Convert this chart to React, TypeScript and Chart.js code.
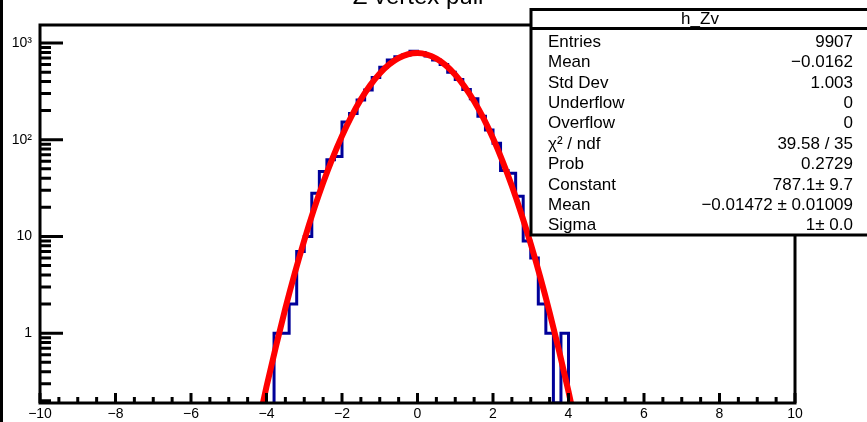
import React, { useEffect, useRef } from 'react';
import { Chart, registerables } from 'chart.js';

Chart.register(...registerables);

// ---- data ----
const binEdges = [
  -3.8, -3.6, -3.4, -3.2, -3.0, -2.8, -2.6, -2.4, -2.2, -2.0,
  -1.8, -1.6, -1.4, -1.2, -1.0, -0.8, -0.6, -0.4, -0.2, 0.0,
  0.2, 0.4, 0.6, 0.8, 1.0, 1.2, 1.4, 1.6, 1.8, 2.0,
  2.2, 2.4, 2.6, 2.8, 3.0, 3.2, 3.4, 3.6, 3.8, 4.0,
];
const binCounts = [
  1, 1, 2, 7, 10, 28, 47, 62, 67, 153,
  187, 258, 327, 440, 560, 667, 721, 751, 820,
  800, 735, 667, 600, 500, 420, 330, 265, 175, 126,
  92, 48, 45, 26, 9, 6, 2, 1, 0, 1,
];
const fitX = [
  -4.25, -4.0, -3.75, -3.5, -3.25, -3.0, -2.75, -2.5, -2.25, -2.0,
  -1.75, -1.5, -1.25, -1.0, -0.75, -0.5, -0.25, 0.0, 0.25, 0.5,
  0.75, 1.0, 1.25, 1.5, 1.75, 2.0, 2.25, 2.5, 2.75, 3.0,
  3.25, 3.5, 3.75, 4.0, 4.25,
];
const fitY = [
  0.1, 0.28, 0.73, 1.81, 4.19, 9.14, 18.7, 35.9, 64.7, 109.6,
  174.7, 261.2, 367.0, 484.4, 600.7, 699.7, 765.6, 787.0, 760.0, 689.4,
  587.6, 470.4, 353.8, 249.9, 165.9, 103.4, 60.6, 33.3, 17.2, 8.37,
  3.82, 1.64, 0.66, 0.25, 0.088,
];
const xTickLabels = [-10, -8, -6, -4, -2, 0, 2, 4, 6, 8, 10];
const yDecadeLabels: Record<string, string> = { '1': '1', '10': '10', '100': '10²', '1000': '10³' };
const titleText = 'Z vertex pull';
const statsTitle = 'h_Zv';
const statsNames = ['Entries', 'Mean', 'Std Dev', 'Underflow', 'Overflow', 'χ² / ndf', 'Prob', 'Constant', 'Mean', 'Sigma'];
const statsValues = ['9907', '−0.0162', '1.003', '0', '0', '39.58 / 35', '0.2729', '787.1± 9.7', '−0.01472 ± 0.01009', '1± 0.0'];

const X_MIN = -10;
const X_MAX = 10;
const Y_MIN = 0.19;
const Y_MAX = 1535;
const FONT = '"Liberation Sans", Arial, Helvetica, sans-serif';

const fmtNum = (v: number) => (v < 0 ? '−' + Math.abs(v) : String(v));

const decorPlugin = {
  id: 'rootDecor',
  afterDatasetsDraw(chart: any) {
    const { ctx, chartArea: a, scales } = chart;
    const xs = scales.x;
    const ys = scales.y;
    ctx.save();
    ctx.strokeStyle = '#000';
    ctx.lineWidth = 3;
    ctx.lineCap = 'butt';
    ctx.beginPath();
    for (let i = 0; i <= 40; i++) {
      const v = X_MIN + i * 0.5;
      const px = xs.getPixelForValue(v);
      const len = i % 4 === 0 ? 10 : 6;
      ctx.moveTo(px, a.bottom);
      ctx.lineTo(px, a.bottom - len);
    }
    for (let d = -1; d <= 3; d++) {
      for (let m = 1; m <= 9; m++) {
        const v = m * Math.pow(10, d);
        if (v < Y_MIN || v > Y_MAX) continue;
        const py = ys.getPixelForValue(v);
        const len = m === 1 ? 23 : 11;
        ctx.moveTo(a.left, py);
        ctx.lineTo(a.left + len, py);
      }
    }
    ctx.stroke();
    ctx.strokeRect(a.left, a.top, a.right - a.left, a.bottom - a.top);
    ctx.restore();
  },
  afterDraw(chart: any) {
    const { ctx } = chart;
    ctx.save();
    ctx.fillStyle = '#000';
    ctx.fillRect(0, 0, 3, chart.height);
    ctx.font = `24px ${FONT}`;
    ctx.textAlign = 'center';
    ctx.textBaseline = 'alphabetic';
    ctx.fillText(titleText, 418, 4);
    const bx = 531, by = 9.5, bw = 400, bh = 225.5;
    ctx.fillStyle = '#fff';
    ctx.fillRect(bx, by, bw, bh);
    ctx.strokeStyle = '#000';
    ctx.lineWidth = 3;
    ctx.strokeRect(bx, by, bw, bh);
    ctx.beginPath();
    ctx.moveTo(bx, 28.5);
    ctx.lineTo(bx + bw, 28.5);
    ctx.stroke();
    ctx.fillStyle = '#000';
    ctx.font = `17px ${FONT}`;
    ctx.textAlign = 'center';
    ctx.fillText(statsTitle, 700, 24);
    for (let i = 0; i < statsNames.length; i++) {
      const yb = 46.7 + i * 20.4;
      ctx.textAlign = 'left';
      ctx.fillText(statsNames[i], 548, yb);
      ctx.textAlign = 'right';
      ctx.fillText(statsValues[i], 853, yb);
    }
    ctx.restore();
  },
};

export default function App() {
  const ref = useRef<HTMLCanvasElement>(null);
  useEffect(() => {
    document.body.style.margin = '0';
    const histPoints: { x: number; y: number }[] = [];
    histPoints.push({ x: binEdges[0], y: Y_MIN });
    for (let i = 0; i < binCounts.length; i++) {
      const c = binCounts[i] > 0 ? binCounts[i] : Y_MIN;
      histPoints.push({ x: binEdges[i], y: c });
      histPoints.push({ x: binEdges[i + 1], y: c });
    }
    histPoints.push({ x: binEdges[binEdges.length - 1], y: Y_MIN });
    const fitPoints = fitX.map((x, i) => ({ x, y: fitY[i] }));

    const chart = new Chart(ref.current as HTMLCanvasElement, {
      type: 'line',
      data: {
        datasets: [
          {
            label: 'fit',
            data: fitPoints,
            borderColor: '#ff0000',
            borderWidth: 6,
            pointRadius: 0,
            cubicInterpolationMode: 'monotone',
            fill: false,
          },
          {
            label: 'h_Zv',
            data: histPoints,
            borderColor: '#000099',
            borderWidth: 3,
            pointRadius: 0,
            tension: 0,
            fill: false,
            borderJoinStyle: 'miter',
          },
        ],
      } as any,
      options: {
        animation: false,
        responsive: false,
        events: [],
        layout: { padding: { top: 25, right: 72, left: 0, bottom: 0 } },
        plugins: { legend: { display: false }, tooltip: { enabled: false }, title: { display: false } },
        scales: {
          x: {
            type: 'linear',
            min: X_MIN,
            max: X_MAX,
            grid: { display: false, drawTicks: false },
            border: { display: false },
            afterFit: (s: any) => { s.height = 19; },
            afterBuildTicks: (s: any) => { s.ticks = xTickLabels.map((v) => ({ value: v })); },
            ticks: {
              autoSkip: false,
              maxRotation: 0,
              padding: 3,
              color: '#000',
              font: { family: FONT, size: 14 },
              callback: (v: any) => fmtNum(Number(v)),
            },
          },
          y: {
            type: 'logarithmic',
            min: Y_MIN,
            max: Y_MAX,
            grid: { display: false, drawTicks: false },
            border: { display: false },
            afterFit: (s: any) => { s.width = 40; },
            afterBuildTicks: (s: any) => {
              s.ticks = Object.keys(yDecadeLabels).map((k) => ({ value: Number(k) }));
            },
            ticks: {
              autoSkip: false,
              padding: 8,
              color: '#000',
              font: { family: FONT, size: 14 },
              callback: (v: any) => yDecadeLabels[String(Number(v))] ?? '',
            },
          },
        },
      } as any,
      plugins: [decorPlugin],
    });
    return () => chart.destroy();
  }, []);
  return (
    <div style={{ width: 867, height: 422, background: '#fff' }}>
      <canvas ref={ref} width={867} height={422} style={{ display: 'block' }} />
    </div>
  );
}
